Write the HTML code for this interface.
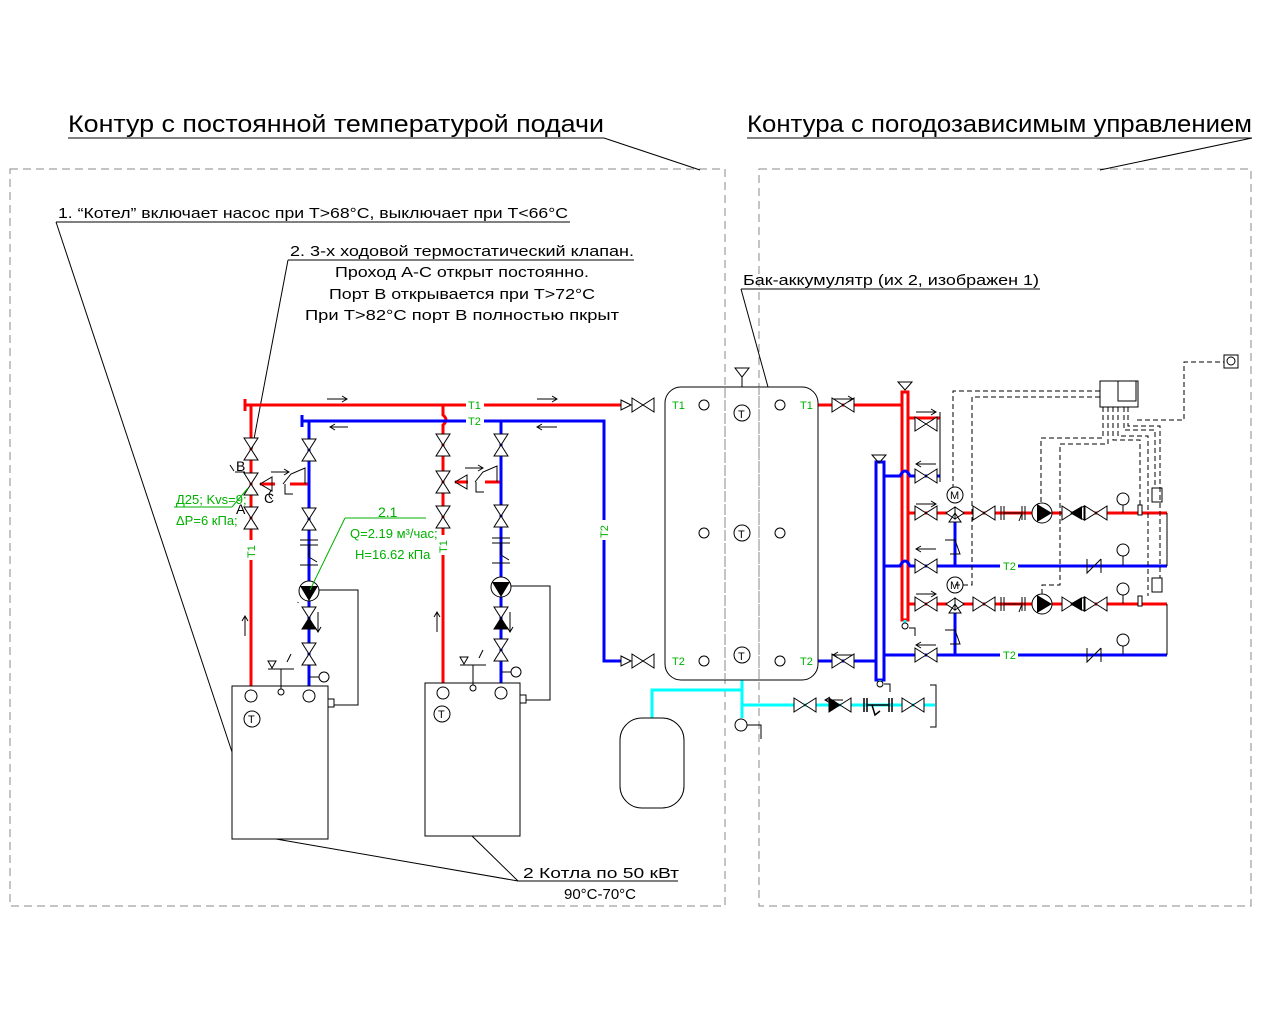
<!DOCTYPE html>
<html><head><meta charset="utf-8"><style>
html,body{margin:0;padding:0;background:#fff}
svg{display:block}
text{font-family:"Liberation Sans Narrow","Liberation Sans",sans-serif;fill:#000}
.g{fill:#00b000}
</style></head><body>
<svg width="1280" height="1024" viewBox="0 0 1280 1024" xmlns="http://www.w3.org/2000/svg">
<defs>
<path id="hv" d="M-11,-7 L11,7 L11,-7 L-11,7 Z" fill="#fff" stroke="#000" stroke-width="1"/>
<path id="vv" d="M-7,-11 L7,11 L-7,11 L7,-11 Z" fill="#fff" stroke="#000" stroke-width="1"/>
<g id="pumpv"><circle r="10" fill="#fff" stroke="#000"/><path d="M-9,-5 L9,-5 L0,10 Z" fill="#000"/></g>
<g id="pumph"><circle r="10" fill="#fff" stroke="#000"/><path d="M-5,-9 L-5,9 L10,0 Z" fill="#000"/></g>
</defs>
<!-- frames -->
<g fill="none" stroke="#888" stroke-dasharray="8,5" stroke-width="1">
<rect x="10" y="169" width="715" height="737"/>
<rect x="759" y="169" width="492" height="737"/>
</g>
<!-- titles -->
<text x="68" y="132" font-size="24" textLength="536" lengthAdjust="spacingAndGlyphs">Контур с постоянной температурой подачи</text>
<line x1="68" y1="138" x2="604" y2="138" stroke="#000"/>
<line x1="604" y1="138" x2="700" y2="170" stroke="#000"/>
<text x="747" y="132" font-size="24" textLength="505" lengthAdjust="spacingAndGlyphs">Контура с погодозависимым управлением</text>
<line x1="747" y1="138" x2="1252" y2="138" stroke="#000"/>
<line x1="1252" y1="138" x2="1100" y2="170" stroke="#000"/>
<!-- notes -->
<text x="58" y="218" font-size="15" textLength="510" lengthAdjust="spacingAndGlyphs">1. “Котел” включает насос при T&gt;68°C, выключает при T&lt;66°C</text>
<line x1="56" y1="222" x2="570" y2="222" stroke="#000"/>
<line x1="56" y1="222" x2="232" y2="752" stroke="#000"/>
<text x="290" y="256" font-size="15" textLength="344" lengthAdjust="spacingAndGlyphs">2. 3-х ходовой термостатический клапан.</text>
<line x1="288" y1="260" x2="634" y2="260" stroke="#000"/>
<line x1="288" y1="260" x2="250" y2="460" stroke="#000"/>
<text x="462" y="277" font-size="15" text-anchor="middle" textLength="254" lengthAdjust="spacingAndGlyphs">Проход А-С открыт постоянно.</text>
<text x="462" y="299" font-size="15" text-anchor="middle" textLength="266" lengthAdjust="spacingAndGlyphs">Порт В открывается при T&gt;72°C</text>
<text x="462" y="320" font-size="15" text-anchor="middle" textLength="314" lengthAdjust="spacingAndGlyphs">При T&gt;82°C порт В полностью пкрыт</text>
<text x="743" y="285" font-size="15" textLength="296" lengthAdjust="spacingAndGlyphs">Бак-аккумулятр (их 2, изображен 1)</text>
<line x1="741" y1="289" x2="1040" y2="289" stroke="#000"/>
<line x1="741" y1="289" x2="768" y2="387" stroke="#000"/>
<text x="523" y="878" font-size="15" textLength="156" lengthAdjust="spacingAndGlyphs">2 Котла по 50 кВт</text>
<line x1="518" y1="881" x2="678" y2="881" stroke="#000"/>
<text x="600" y="899" font-size="15" text-anchor="middle">90°C-70°C</text>
<line x1="518" y1="881" x2="276" y2="839" stroke="#000"/>
<line x1="518" y1="881" x2="472" y2="836" stroke="#000"/>

<!-- RED lines -->
<g stroke="#f00" stroke-width="3" fill="none">
<path d="M245,405 H625"/><path d="M245,399 V411"/>
<path d="M251,405 V693"/>
<path d="M443,405 V415 q6,5 0,10 V693"/>
<path d="M818,405 H903"/>
<path d="M275,484 H260"/><path d="M290,484 H309"/>
<path d="M468,482 H455"/><path d="M485,482 H501"/>
<path d="M908,418 H940 M908,476 H940 M908,513 H1167 M908,604 H1167"/>
</g>
<rect x="902" y="392" width="6" height="228" fill="none" stroke="#f00" stroke-width="3"/>
<!-- BLUE lines -->
<g stroke="#00f" stroke-width="3" fill="none">
<path d="M302,421 H604 V661 H625"/><path d="M302,415 V427"/>
<path d="M309,421 V693"/><path d="M501,421 V693"/>
<path d="M818,661 H876"/>
<path d="M884,476 H900 q5,-10 10,0 H940"/>
<path d="M884,566 H900 q5,-10 10,0 H1167"/>
<path d="M884,655 H1167"/>
<path d="M955,522 V566 M955,612 V655"/>
</g>
<rect x="876" y="462" width="8" height="218" fill="none" stroke="#00f" stroke-width="3"/>
<!-- CYAN -->
<g stroke="#0ff" stroke-width="3" fill="none">
<path d="M742,680 V718"/><path d="M652,718 V690 H742"/><path d="M742,705 H935"/>
<path d="M905,620 V628 M880,680 V684"/>
</g>
<!-- green labels -->
<g font-size="11">
<rect x="466" y="399" width="18" height="12" fill="#fff"/><text class="g" x="468" y="409">T1</text>
<rect x="466" y="415" width="18" height="12" fill="#fff"/><text class="g" x="468" y="425">T2</text>
<text class="g" x="672" y="409">T1</text><text class="g" x="672" y="665">T2</text>
<text class="g" x="800" y="409">T1</text><text class="g" x="800" y="665">T2</text>
<rect x="1000" y="560" width="18" height="12" fill="#fff"/><text class="g" x="1003" y="570">T2</text>
<rect x="1000" y="649" width="18" height="12" fill="#fff"/><text class="g" x="1003" y="659">T2</text>
<rect x="245" y="540" width="12" height="20" fill="#fff"/><text class="g" transform="translate(255,558) rotate(-90)">T1</text>
<rect x="437" y="535" width="12" height="20" fill="#fff"/><text class="g" transform="translate(447,553) rotate(-90)">T1</text>
<rect x="598" y="520" width="12" height="20" fill="#fff"/><text class="g" transform="translate(608,538) rotate(-90)">T2</text>
</g>
<!-- valves left loop 1 -->
<use href="#vv" x="251" y="449"/><use href="#vv" x="251" y="518"/><use href="#vv" x="251" y="484"/>
<use href="#vv" x="309" y="450"/><use href="#vv" x="309" y="519"/><use href="#vv" x="309" y="618"/><use href="#vv" x="309" y="654"/>
<use href="#vv" x="443" y="445"/><use href="#vv" x="443" y="517"/><use href="#vv" x="443" y="482"/>
<use href="#vv" x="501" y="445"/><use href="#vv" x="501" y="516"/><use href="#vv" x="501" y="618"/><use href="#vv" x="501" y="650"/>
<g fill="#000"><path d="M302,629 L316,629 L309,618 Z"/><path d="M494,629 L508,629 L501,618 Z"/></g>
<g stroke="#000" fill="none">
<path d="M260,484 l12,-7 v14 z M283,484 l8,-10 l14,-6 v16"/><path d="M272,490 q-6,5 0,9 M285,484 v10 h8"/>
<path d="M455,482 l12,-7 v14 z M475,482 l8,-10 l14,-6 v16"/><path d="M476,482 v10 h8"/>
<path d="M300,540 h18 M300,545 h18 M309,545 v12 l8,5 M300,565 h18"/>
<path d="M492,538 h18 M492,543 h18 M501,543 v12 l8,5 M492,563 h18"/>
<path d="M319,590 H358 V705 H333"/><path d="M511,586 H550 V700 H526"/>
<path d="M235,472 H245 M268,278"/>
<path d="M230,465 l4,6" />
<path d="M298,603 l0,-1"/>
</g>
<use href="#pumpv" x="309" y="591"/><use href="#pumpv" x="501" y="587"/>
<text x="236" y="471" font-size="14">B</text><text x="236" y="514" font-size="14">A</text><text x="264" y="503" font-size="14">C</text>
<!-- annotations green -->
<text class="g" x="176" y="504" font-size="13">Д25; Kvs=9;</text>
<line x1="174" y1="507" x2="232" y2="507" stroke="#00b000"/>
<line x1="232" y1="507" x2="248" y2="488" stroke="#00b000"/>
<text class="g" x="176" y="525" font-size="13">ΔP=6 кПа;</text>
<text class="g" x="378" y="517" font-size="14">2.1</text>
<path d="M345,518 H426 M345,518 L310,590" stroke="#00b000" fill="none"/>
<text class="g" x="350" y="538" font-size="13">Q=2.19 м³/час;</text>
<text class="g" x="355" y="559" font-size="13">H=16.62 кПа</text>
<!-- arrows -->
<g stroke="#000" fill="none" stroke-width="1">
<path d="M327,399 h20 m-5,-3 l5,3 l-5,3"/><path d="M537,399 h20 m-5,-3 l5,3 l-5,3"/>
<path d="M330,427 h18 m-13,-3 l-5,3 l5,3"/><path d="M537,427 h20 m-15,-3 l-5,3 l5,3"/>
<path d="M271,472 h18 m-5,-3 l5,3 l-5,3"/><path d="M465,468 h18 m-5,-3 l5,3 l-5,3"/>
<path d="M245,636 v-20 m-3,5 l3,-5 l3,5"/><path d="M437,632 v-20 m-3,5 l3,-5 l3,5"/>
<path d="M318,612 v20 m-3,-5 l3,5 l3,-5"/><path d="M510,612 v20 m-3,-5 l3,5 l3,-5"/>
</g>
<!-- boilers -->
<rect x="232" y="686" width="96" height="153" fill="#fff" stroke="#000"/>
<rect x="425" y="683" width="95" height="153" fill="#fff" stroke="#000"/>
<g fill="#fff" stroke="#000">
<circle cx="251" cy="696" r="6"/><circle cx="309" cy="696" r="6"/><circle cx="443" cy="693" r="6"/><circle cx="501" cy="693" r="6"/>
<circle cx="252" cy="719" r="8"/><circle cx="442" cy="714" r="8"/>
<circle cx="281" cy="692" r="3"/><circle cx="473" cy="688" r="3"/>
<rect x="328" y="699" width="6" height="8"/><rect x="520" y="695" width="6" height="8"/>
<circle cx="324" cy="677" r="5"/><circle cx="516" cy="672" r="5"/>
</g>
<g stroke="#000" fill="none">
<path d="M268,669 h26 M281,669 v20 M268,661 l4,7 l4,-7 z M287,662 l4,-8 M460,665 h26 M473,665 v20 M460,657 l4,7 l4,-7 z M479,658 l4,-8"/>
<path d="M309,677 h10 M501,672 h10"/>
</g>
<text x="248" y="723" font-size="11">T</text><text x="438" y="718" font-size="11">T</text>
<!-- lines to tank -->
<use href="#hv" x="643" y="405"/><use href="#hv" x="643" y="661"/>
<path d="M621,400 l10,5 l-10,5 z M621,656 l10,5 l-10,5 z" fill="#fff" stroke="#000"/>
<!-- tank -->
<rect x="665" y="387" width="153" height="293" rx="16" fill="none" stroke="#000"/>
<line x1="725" y1="387" x2="725" y2="680" stroke="#888" stroke-dasharray="8,5"/>
<line x1="759" y1="387" x2="759" y2="680" stroke="#888" stroke-dasharray="8,5"/>
<g fill="#fff" stroke="#000">
<circle cx="704" cy="405" r="5"/><circle cx="780" cy="405" r="5"/><circle cx="704" cy="533" r="5"/><circle cx="780" cy="533" r="5"/><circle cx="704" cy="661" r="5"/><circle cx="780" cy="661" r="5"/>
<circle cx="742" cy="413" r="8"/><circle cx="742" cy="533" r="8"/><circle cx="742" cy="655" r="8"/>
<path d="M735,368 h14 l-7,9 z"/><line x1="742" y1="377" x2="742" y2="387"/>
<circle cx="741" cy="725" r="6"/>
</g>
<text x="738" y="418" font-size="11">T</text><text x="738" y="538" font-size="11">T</text><text x="738" y="660" font-size="11">T</text>
<path d="M747,725 h14 v14" stroke="#000" fill="none"/>
<rect x="620" y="718" width="64" height="90" rx="22" fill="none" stroke="#000"/>
<!-- right side valves -->
<use href="#hv" x="843" y="405"/><use href="#hv" x="843" y="661"/>
<use href="#hv" x="805" y="705"/><use href="#hv" x="840" y="705"/><use href="#hv" x="913" y="705"/>
<path d="M829,698 L840,705 L829,712 Z" fill="#000"/>
<g stroke="#000" fill="none">
<path d="M864,698 v14 M867,698 v14 M889,698 v14 M892,698 v14 M867,705 h22 M872,705 l3,10 l5,-4" stroke-width="1.5"/>
<path d="M930,685 h6 v42 h-6"/>
<path d="M833,399 h20 m-5,-3 l5,3 l-5,3"/><path d="M833,655 h20 m-15,-3 l-5,3 l5,3"/><path d="M825,700 h18 m-13,-3 l-5,3 l5,3"/>
<path d="M898,382 h14 l-7,8 z M872,455 h14 l-7,8 z"/>
<path d="M909,628 h6 v8"/><path d="M884,684 h6 v8"/>
<path d="M940,412 v70"/>
</g>
<circle cx="905" cy="626" r="3" fill="#fff" stroke="#000"/><circle cx="880" cy="684" r="3" fill="#fff" stroke="#000"/>
<use href="#hv" x="926" y="424"/><use href="#hv" x="926" y="476"/>
<use href="#hv" x="926" y="513"/><use href="#hv" x="926" y="566"/><use href="#hv" x="926" y="604"/><use href="#hv" x="926" y="655"/>
<use href="#hv" x="984" y="513"/><use href="#hv" x="984" y="604"/>
<use href="#hv" x="1073" y="513"/><use href="#hv" x="1096" y="513"/><use href="#hv" x="1073" y="604"/><use href="#hv" x="1096" y="604"/>
<path d="M1082,506 L1070,513 L1082,520 Z M1082,597 L1070,604 L1082,611 Z" fill="#000"/>
<use href="#pumph" x="1042" y="513"/><use href="#pumph" x="1042" y="604"/>
<g fill="#fff" stroke="#000">
<path d="M946,513 l9,-6 v12 z M964,513 l-9,-6 v12 z M955,513 l-6,9 h12 z"/>
<path d="M946,604 l9,-6 v12 z M964,604 l-9,-6 v12 z M955,604 l-6,9 h12 z"/>
<circle cx="955" cy="495" r="8"/><circle cx="955" cy="585" r="8"/>
</g>
<text x="950" y="499" font-size="11">M</text><text x="950" y="589" font-size="11">M</text>
<g stroke="#000" fill="none" stroke-width="1">
<path d="M1001,506 v14 M1004,506 v14 M1022,506 v14 M1025,506 v14 M1004,513 h18 l-3,8"/>
<path d="M1001,597 v14 M1004,597 v14 M1022,597 v14 M1025,597 v14 M1004,604 h18 l-3,8"/>
<path d="M945,540 h10 l5,14 h-10 M945,630 h10 l5,14 h-10"/>
<path d="M1087,559 v14 l14,-14 M1101,559 v14 M1087,648 v14 l14,-14 M1101,648 v14"/>
<path d="M916,412 h20 m-5,-3 l5,3 l-5,3 M916,464 h20 m-15,-3 l-5,3 l5,3 M916,504 h20 m-5,-3 l5,3 l-5,3 M916,549 h20 m-15,-3 l-5,3 l5,3 M916,594 h20 m-5,-3 l5,3 l-5,3 M916,645 h20 m-15,-3 l-5,3 l5,3"/>
<path d="M1167,513 V566 M1167,604 V655"/>
</g>
<g fill="#fff" stroke="#000">
<circle cx="1123" cy="499" r="6"/><circle cx="1123" cy="550" r="6"/><circle cx="1123" cy="589" r="6"/><circle cx="1123" cy="640" r="6"/>
<rect x="1138" y="505" width="4" height="10"/><rect x="1138" y="596" width="4" height="10"/>
<rect x="1152" y="488" width="10" height="14"/><rect x="1152" y="578" width="10" height="14"/>
</g>
<path d="M1123,505 v8 M1123,556 v10 M1123,595 v9 M1123,646 v9" stroke="#000"/>
<!-- controller -->
<rect x="1100" y="381" width="38" height="26" fill="#fff" stroke="#000"/>
<rect x="1118" y="381" width="18" height="20" fill="none" stroke="#000"/>
<rect x="1224" y="355" width="14" height="13" fill="#fff" stroke="#000"/><circle cx="1231" cy="361" r="4" fill="none" stroke="#000"/>
<g stroke="#000" fill="none" stroke-dasharray="5,3">
<path d="M1137,420 H1184 V362 H1224"/>
<path d="M1100,391 H953 V487"/><path d="M1100,397 H972 V585 H955"/>
<path d="M1103,407 V438 H1041 V505"/><path d="M1108,407 V444 H1060 V585 H1042 V596"/>
<path d="M1113,407 V440 H1140 V505"/><path d="M1118,407 V436 H1148 V596"/>
<path d="M1124,407 V430 H1155 V488"/><path d="M1128,407 V426 H1160 V578"/>
</g>
</svg>
</body></html>
